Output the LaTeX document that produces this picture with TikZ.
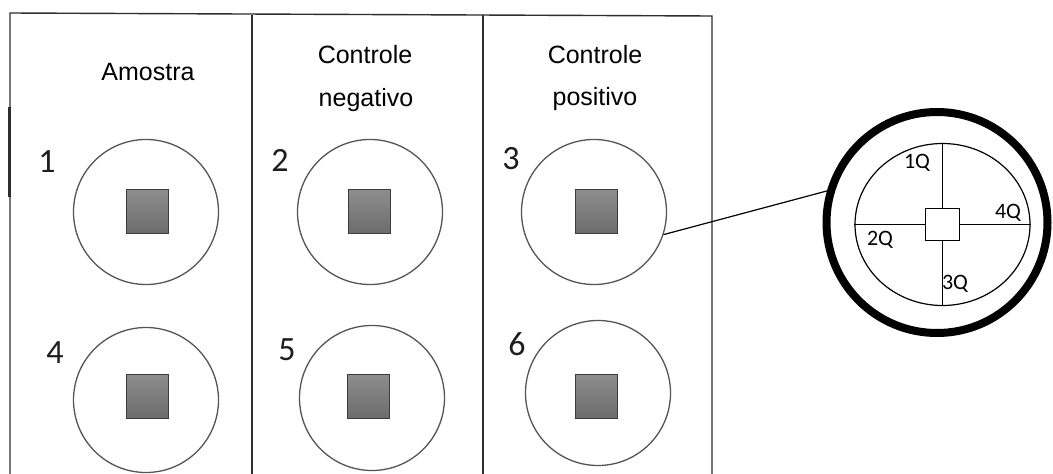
\documentclass[tikz,border=0pt]{standalone}
\usepackage{fontspec}
\setmainfont{Liberation Sans}
\newfontfamily\calib{Carlito}
\usetikzlibrary{shapes.geometric}

\definecolor{framegray}{HTML}{2E2E2E}
\definecolor{wellgray}{HTML}{555555}
\definecolor{chipedge}{HTML}{3C3C3C}
\definecolor{chiptop}{HTML}{8E8E8E}
\definecolor{chipbot}{HTML}{6C6C6C}
\definecolor{inkgray}{HTML}{1E1E1E}

\tikzset{
  frameline/.style={draw=framegray, line width=1.4pt},
  well/.style={circle, draw=wellgray, line width=1.3pt, minimum size=145pt, inner sep=0pt},
  chip/.style={rectangle, draw=chipedge, line width=1pt, minimum width=42pt,
               minimum height=44pt, inner sep=0pt, top color=chiptop, bottom color=chipbot},
  head/.style={font=\fontsize{25}{25}\selectfont, anchor=base, text=black, inner sep=0pt},
  wellnum/.style={font=\calib\fontsize{34}{34}\selectfont, text=inkgray, inner sep=0pt},
  quad/.style={font=\calib\fontsize{22}{22}\selectfont, text=black, inner sep=0pt},
  thinline/.style={draw=black, line width=1.2pt}
}

\begin{document}
\begin{tikzpicture}[x=1pt, y=-1pt]
\useasboundingbox (0,0) rectangle (1053,474);
\fill[white] (0,0) rectangle (1053,474);

% plate frame with three columns
\coordinate (tl) at (10,13);
\coordinate (tr) at (712,16);
\draw[frameline] (10,474) -- (tl) -- (tr) -- (712,474);
\draw[frameline] (252,14.5) -- (252,474);
\draw[frameline] (483,15) -- (483,474);
\draw[draw=framegray, line width=3pt] (9,107) -- (9,197);

% column headings
\node[head] (h1) at (148,80) {Amostra};
\node[head] (h2a) at (365,63) {Controle};
\node[head] (h2b) at (366,106) {negativo};
\node[head] (h3a) at (595,63) {Controle};
\node[head] (h3b) at (595,105) {positivo};

% wells
\node[well] (w1) at (146,212) {};
\node[well] (w2) at (370,212) {};
\node[well] (w3) at (594,212) {};
\node[well] (w4) at (146,400) {};
\node[well] (w5) at (372,398) {};
\node[well] (w6) at (598,393) {};

% square samples in each well
\node[chip] (s1) at (147,211) {};
\node[chip] (s2) at (369,211) {};
\node[chip] (s3) at (596,211) {};
\node[chip] (s4) at (147,396) {};
\node[chip] (s5) at (368.5,396) {};
\node[chip] (s6) at (596,396) {};

% well numbers
\node[wellnum] (n1) at (47,162) {1};
\node[wellnum] (n2) at (280,160) {2};
\node[wellnum] (n3) at (511,159) {3};
\node[wellnum] (n4) at (55,353) {4};
\node[wellnum] (n5) at (287,350) {5};
\node[wellnum] (n6) at (517,344) {6};

% enlarged view of a well with its quadrants
\node[circle, draw=black, line width=8pt, minimum size=221pt, inner sep=0pt] (det) at (937,222.5) {};
\node[ellipse, draw=black, line width=1.2pt, minimum width=175pt, minimum height=162pt, inner sep=0pt] (ell) at (942.5,224.5) {};
\node[rectangle, draw=black, line width=1.2pt, fill=white, minimum width=34pt, minimum height=32pt, inner sep=0pt] (hub) at (942.5,224.5) {};
\draw[thinline] (ell.west) -- (hub.west);
\draw[thinline] (hub.east) -- (ell.east);
\draw[thinline] (ell.north) -- (hub.north);
\draw[thinline] (hub.south) -- (ell.south);

\node[quad] (q1) at (917,163) {1Q};
\node[quad] (q4) at (1008,213) {4Q};
\node[quad] (q2) at (880,240) {2Q};
\node[quad] (q3) at (955,284) {3Q};

% pointer from well 3 to the enlarged view
\draw[thinline] (w3.-18) -- (det.164.5);
\end{tikzpicture}
\end{document}
